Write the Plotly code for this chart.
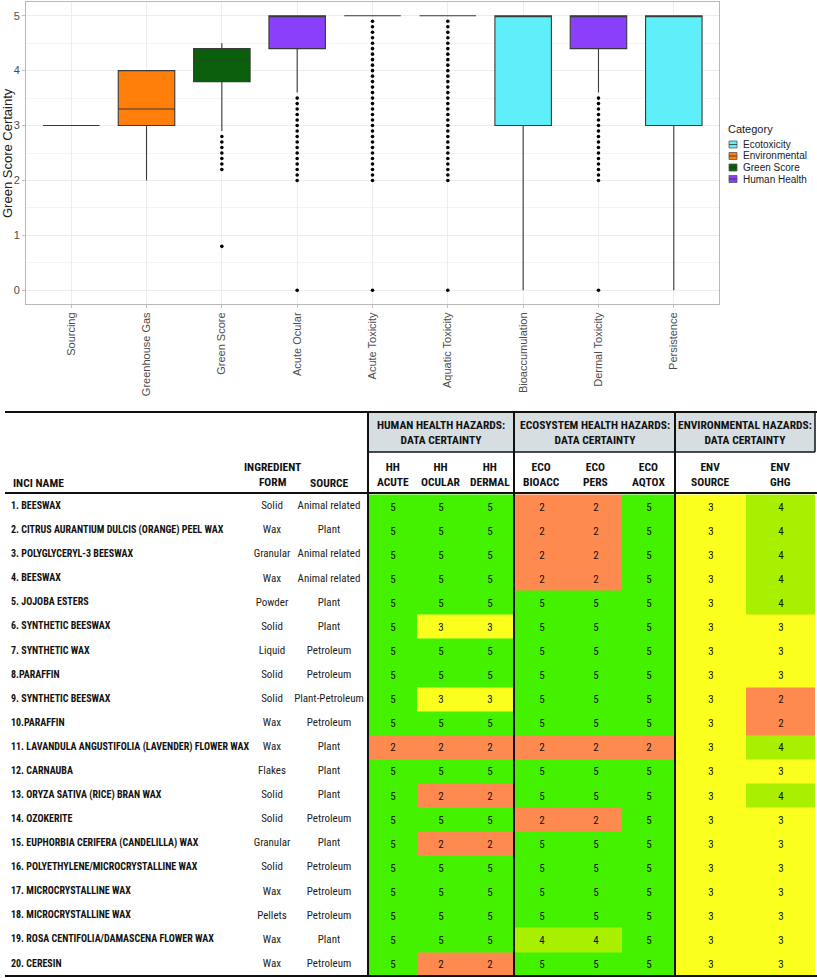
import plotly.graph_objects as go

W, H = 817, 978

# ---------------- Box plot data ----------------
metrics = ["Sourcing", "Greenhouse Gas", "Green Score", "Acute Ocular", "Acute Toxicity",
           "Aquatic Toxicity", "Bioaccumulation", "Dermal Toxicity", "Persistence"]
metric_category = ["Environmental", "Environmental", "Green Score", "Human Health", "Human Health",
                   "Ecotoxicity", "Ecotoxicity", "Human Health", "Ecotoxicity"]
q1 =      [3, 3.0, 3.8, 4.4, 5, 5, 3, 4.4, 3]
median =  [3, 3.3, 4.2, 5.0, 5, 5, 5, 5.0, 5]
q3 =      [3, 4.0, 4.4, 5.0, 5, 5, 5, 5.0, 5]
lower =   [3, 2.0, 2.9, 3.6, 5, 5, 0, 3.6, 0]
upper =   [3, 4.0, 4.5, 5.0, 5, 5, 5, 5.0, 5]

outliers = {
    "Green Score": [2.8, 2.7, 2.6, 2.5, 2.4, 2.3, 2.2, 0.8],
    "Acute Ocular": [3.5, 3.4, 3.3, 3.2, 3.1, 3.0, 2.9, 2.8, 2.7, 2.6, 2.5, 2.4, 2.3, 2.2, 2.1, 2.0, 0],
    "Acute Toxicity": [4.9, 4.8, 4.7, 4.6, 4.5, 4.4, 4.3, 4.2, 4.1, 4.0, 3.9, 3.8, 3.7, 3.6, 3.5,
                       3.4, 3.3, 3.2, 3.1, 3.0, 2.9, 2.8, 2.7, 2.6, 2.5, 2.4, 2.3, 2.2, 2.1, 2.0, 0],
    "Aquatic Toxicity": [4.9, 4.8, 4.7, 4.6, 4.5, 4.4, 4.3, 4.2, 4.1, 4.0, 3.9, 3.8, 3.7, 3.6, 3.5,
                         3.4, 3.3, 3.2, 3.1, 3.0, 2.9, 2.8, 2.7, 2.6, 2.5, 2.4, 2.3, 2.2, 2.1, 2.0, 0],
    "Dermal Toxicity": [3.5, 3.4, 3.3, 3.2, 3.1, 3.0, 2.9, 2.8, 2.7, 2.6, 2.5, 2.4, 2.3, 2.2, 2.1, 2.0, 0],
}

categories = ["Ecotoxicity", "Environmental", "Green Score", "Human Health"]
cat_colors = {"Ecotoxicity": "#5FEFFB", "Environmental": "#FF7F0A",
              "Green Score": "#0B5E0B", "Human Health": "#8A3FFB"}

# ---------------- Table data ----------------
inci_names = [
    "1. BEESWAX", "2. CITRUS AURANTIUM DULCIS (ORANGE) PEEL WAX", "3. POLYGLYCERYL-3 BEESWAX",
    "4. BEESWAX", "5. JOJOBA ESTERS", "6. SYNTHETIC BEESWAX", "7. SYNTHETIC WAX", "8.PARAFFIN",
    "9. SYNTHETIC BEESWAX", "10.PARAFFIN", "11. LAVANDULA ANGUSTIFOLIA (LAVENDER) FLOWER WAX",
    "12. CARNAUBA", "13. ORYZA SATIVA (RICE) BRAN WAX", "14. OZOKERITE",
    "15. EUPHORBIA CERIFERA (CANDELILLA) WAX", "16. POLYETHYLENE/MICROCRYSTALLINE WAX",
    "17. MICROCRYSTALLINE WAX", "18. MICROCRYSTALLINE WAX", "19. ROSA CENTIFOLIA/DAMASCENA FLOWER WAX",
    "20. CERESIN"]
ingredient_form = ["Solid", "Wax", "Granular", "Wax", "Powder", "Solid", "Liquid", "Solid", "Solid", "Wax",
                   "Wax", "Flakes", "Solid", "Solid", "Granular", "Solid", "Wax", "Pellets", "Wax", "Wax"]
source = ["Animal related", "Plant", "Animal related", "Animal related", "Plant", "Plant", "Petroleum",
          "Petroleum", "Plant-Petroleum", "Petroleum", "Plant", "Plant", "Plant", "Petroleum", "Plant",
          "Petroleum", "Petroleum", "Petroleum", "Plant", "Petroleum"]

score_columns = ["HH<br>ACUTE", "HH<br>OCULAR", "HH<br>DERMAL", "ECO<br>BIOACC", "ECO<br>PERS",
                 "ECO<br>AQTOX", "ENV<br>SOURCE", "ENV<br>GHG"]
hh_acute =   [5, 5, 5, 5, 5, 5, 5, 5, 5, 5, 2, 5, 5, 5, 5, 5, 5, 5, 5, 5]
hh_ocular =  [5, 5, 5, 5, 5, 3, 5, 5, 3, 5, 2, 5, 2, 5, 2, 5, 5, 5, 5, 2]
hh_dermal =  [5, 5, 5, 5, 5, 3, 5, 5, 3, 5, 2, 5, 2, 5, 2, 5, 5, 5, 5, 2]
eco_bioacc = [2, 2, 2, 2, 5, 5, 5, 5, 5, 5, 2, 5, 5, 2, 5, 5, 5, 5, 4, 5]
eco_pers =   [2, 2, 2, 2, 5, 5, 5, 5, 5, 5, 2, 5, 5, 2, 5, 5, 5, 5, 4, 5]
eco_aqtox =  [5, 5, 5, 5, 5, 5, 5, 5, 5, 5, 2, 5, 5, 5, 5, 5, 5, 5, 5, 5]
env_source = [3, 3, 3, 3, 3, 3, 3, 3, 3, 3, 3, 3, 3, 3, 3, 3, 3, 3, 3, 3]
env_ghg =    [4, 4, 4, 4, 4, 3, 3, 3, 2, 2, 4, 3, 4, 3, 3, 3, 3, 3, 3, 3]
group_headers = ["HUMAN HEALTH HAZARDS:<br>DATA CERTAINTY", "ECOSYSTEM HEALTH HAZARDS:<br>DATA CERTAINTY",
                 "ENVIRONMENTAL HAZARDS:<br>DATA CERTAINTY"]

# ---------------- Layout constants (pixels) ----------------
def px(x):
    return x / W

def py(y):
    return 1 - y / H

PLOT_L, PLOT_R, PLOT_T, PLOT_B = 26, 719, 2, 304
COL_EDGES = [368, 417, 465, 514, 569, 622, 675, 746, 815]
GROUP_EDGES = [368, 514, 675, 815]
ROW_TOP, ROW_H, NROWS = 494.5, 24.08, 20
TBL_L, TBL_R = 5, 817
HEAD_TOP, HEAD_MID, HEAD_BOT = 412, 452, 493

FONT = "Liberation Sans, Arial, sans-serif"
NARROW = "Roboto Condensed, Liberation Sans Narrow, Arial Narrow, DejaVu Sans Condensed, Liberation Sans, sans-serif"

fig = go.Figure()

# Box traces, one per category
for cat in categories:
    idx = [i for i, c in enumerate(metric_category) if c == cat]
    fig.add_trace(go.Box(
        x=[metrics[i] for i in idx],
        q1=[q1[i] for i in idx], median=[median[i] for i in idx], q3=[q3[i] for i in idx],
        lowerfence=[lower[i] for i in idx], upperfence=[upper[i] for i in idx],
        fillcolor=cat_colors[cat], line=dict(color="#3a3a3a", width=1.1),
        width=0.75, whiskerwidth=0, boxpoints=False, name=cat, showlegend=False,
        hoverinfo="skip", xaxis="x", yaxis="y"))

# outliers
for m, vals in outliers.items():
    fig.add_trace(go.Scatter(
        x=[m] * len(vals), y=vals, mode="markers",
        marker=dict(color="black", size=3.6), showlegend=False, hoverinfo="skip",
        xaxis="x", yaxis="y"))

# Heatmap table cells
z_cols = [hh_acute, hh_ocular, hh_dermal, eco_bioacc, eco_pers, eco_aqtox, env_source, env_ghg]
z = [[col[r] for col in z_cols] for r in range(NROWS)]
row_edges = [ROW_TOP + i * ROW_H for i in range(NROWS + 1)]
row_centers = [ROW_TOP + (i + 0.5) * ROW_H for i in range(NROWS)]
O, Y, YG, G = "#FF8A50", "#FAFF1E", "#A8F000", "#44F200"
cscale = [[0, O], [1 / 6, O], [1 / 6, Y], [0.5, Y], [0.5, YG], [5 / 6, YG], [5 / 6, G], [1, G]]
fig.add_trace(go.Heatmap(
    z=z, x=COL_EDGES, y=row_edges, zmin=2, zmax=5, colorscale=cscale, showscale=False,
    texttemplate="%{z}", textfont=dict(family=NARROW, size=11, color="#111"),
    hoverinfo="skip", xaxis="x2", yaxis="y2"))

# Text columns
fig.add_trace(go.Scatter(
    x=[11] * NROWS, y=row_centers, text=inci_names, mode="text", textposition="middle right",
    textfont=dict(family=NARROW, size=10, color="#111", weight="bold"),
    showlegend=False, hoverinfo="skip", xaxis="x2", yaxis="y2"))
fig.add_trace(go.Scatter(
    x=[272] * NROWS, y=row_centers, text=ingredient_form, mode="text", textposition="middle center",
    textfont=dict(family=NARROW, size=11, color="#222"),
    showlegend=False, hoverinfo="skip", xaxis="x2", yaxis="y2"))
fig.add_trace(go.Scatter(
    x=[329] * NROWS, y=row_centers, text=source, mode="text", textposition="middle center",
    textfont=dict(family=NARROW, size=11, color="#222"),
    showlegend=False, hoverinfo="skip", xaxis="x2", yaxis="y2"))

shapes = []
annotations = []

# Table header band & lines
shapes.append(dict(type="rect", xref="x2", yref="y2", x0=GROUP_EDGES[0], x1=GROUP_EDGES[-1],
                   y0=HEAD_TOP, y1=HEAD_MID, fillcolor="#D7DEE1", line=dict(width=0), layer="below"))
for (x0, x1, y, w) in [(TBL_L, TBL_R, HEAD_TOP, 2), (GROUP_EDGES[0], GROUP_EDGES[-1], HEAD_MID, 1.5),
                       (TBL_L, TBL_R, HEAD_BOT, 2), (TBL_L, TBL_R, ROW_TOP + NROWS * ROW_H, 2)]:
    shapes.append(dict(type="line", xref="x2", yref="y2", x0=x0, x1=x1, y0=y, y1=y,
                       line=dict(color="#111", width=w)))
for x in GROUP_EDGES[:3]:
    shapes.append(dict(type="line", xref="x2", yref="y2", x0=x, x1=x, y0=HEAD_TOP,
                       y1=ROW_TOP + NROWS * ROW_H, line=dict(color="#111", width=2)))
shapes.append(dict(type="line", xref="x2", yref="y2", x0=GROUP_EDGES[3], x1=GROUP_EDGES[3],
                   y0=HEAD_TOP, y1=HEAD_MID, line=dict(color="#111", width=1.5)))

HFONT = dict(family=NARROW, size=11.5, color="#111", weight="bold")
for i, g in enumerate(group_headers):
    annotations.append(dict(xref="x2", yref="y2", x=(GROUP_EDGES[i] + GROUP_EDGES[i + 1]) / 2,
                            y=(HEAD_TOP + HEAD_MID) / 2, text=g, showarrow=False,
                            xanchor="center", yanchor="middle", font=HFONT))
for i, c in enumerate(score_columns):
    annotations.append(dict(xref="x2", yref="y2", x=(COL_EDGES[i] + COL_EDGES[i + 1]) / 2,
                            y=474, text=c, showarrow=False, xanchor="center", yanchor="middle",
                            font=HFONT))
annotations.append(dict(xref="x2", yref="y2", x=11, y=483, text="INCI NAME", showarrow=False,
                        xanchor="left", yanchor="middle", font=HFONT))
annotations.append(dict(xref="x2", yref="y2", x=272, y=474, text="INGREDIENT<br>FORM", showarrow=False,
                        xanchor="center", yanchor="middle", font=HFONT))
annotations.append(dict(xref="x2", yref="y2", x=329, y=483, text="SOURCE", showarrow=False,
                        xanchor="center", yanchor="middle", font=HFONT))

# Y axis title for box plot
annotations.append(dict(xref="paper", yref="paper", x=px(8), y=py((PLOT_T + PLOT_B) / 2),
                        text="Green Score Certainty", textangle=-90, showarrow=False,
                        xanchor="center", yanchor="middle",
                        font=dict(family=FONT, size=13, color="#222")))

# Manual legend
annotations.append(dict(xref="paper", yref="paper", x=px(727), y=py(129), text="Category",
                        xanchor="left", yanchor="middle", showarrow=False, borderpad=0,
                        font=dict(family=FONT, size=11, color="#222")))
for i, cat in enumerate(categories):
    yc = 144.5 + i * 11.5
    shapes.append(dict(type="rect", xref="paper", yref="paper", x0=px(729), x1=px(737),
                       y0=py(yc - 3.5), y1=py(yc + 3.5), fillcolor=cat_colors[cat],
                       line=dict(color="#555", width=0.8)))
    shapes.append(dict(type="line", xref="paper", yref="paper", x0=px(729), x1=px(737),
                       y0=py(yc), y1=py(yc), line=dict(color="#333", width=0.8)))
    annotations.append(dict(xref="paper", yref="paper", x=px(742), y=py(yc), text=cat,
                            xanchor="left", yanchor="middle", showarrow=False, borderpad=0,
                            font=dict(family=FONT, size=10, color="#222")))

fig.update_layout(
    width=W, height=H, margin=dict(l=0, r=0, t=0, b=0),
    paper_bgcolor="white", plot_bgcolor="white", boxmode="overlay", showlegend=False,
    xaxis=dict(domain=[px(PLOT_L), px(PLOT_R)], type="category", categoryorder="array",
               categoryarray=metrics, range=[-0.6, 8.6], tickangle=-90,
               tickfont=dict(family=FONT, size=11, color="#4d4d4d"),
               showgrid=True, gridcolor="#EDEDED", gridwidth=1, showline=True, linecolor="#B8B8B8",
               mirror=True, ticks="outside", ticklen=3, tickcolor="#C0C0C0", zeroline=False,
               fixedrange=True, anchor="y"),
    yaxis=dict(domain=[py(PLOT_B), py(PLOT_T)], range=[-0.25, 5.25], tickvals=[0, 1, 2, 3, 4, 5],
               tickfont=dict(family=FONT, size=11, color="#4d4d4d"),
               showgrid=True, gridcolor="#EDEDED", gridwidth=1,
               minor=dict(tickvals=[0.5, 1.5, 2.5, 3.5, 4.5], showgrid=True, gridcolor="#F4F4F4"),
               showline=True, linecolor="#B8B8B8", mirror=True, ticks="outside", ticklen=3,
               tickcolor="#C0C0C0", zeroline=False, fixedrange=True, anchor="x"),
    xaxis2=dict(domain=[0, 1], range=[0, W], visible=False, fixedrange=True, anchor="y2"),
    yaxis2=dict(domain=[0, py(400)], range=[H, 400], visible=False, fixedrange=True, anchor="x2"),
    shapes=shapes, annotations=annotations,
)

fig.write_html("out.html", config={"displayModeBar": False},
               post_script="document.body.style.margin='0';document.body.style.overflow='hidden';")
